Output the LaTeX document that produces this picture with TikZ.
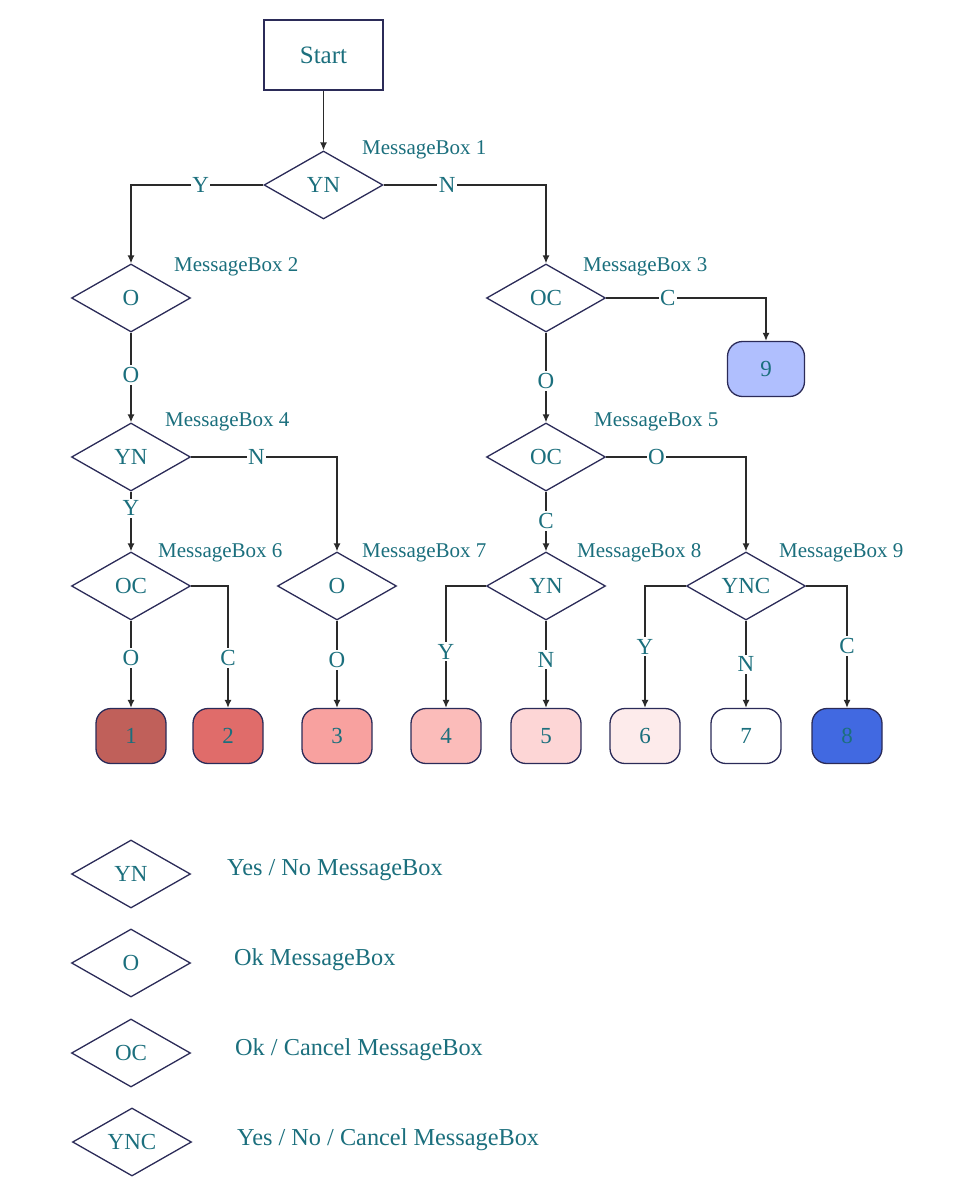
\documentclass[tikz,border=0pt]{standalone}
\usepackage{fontspec}
\setmainfont{Liberation Serif}
\usetikzlibrary{shapes.geometric,arrows.meta}
\definecolor{txt}{HTML}{1B6F7D}
\definecolor{edge}{HTML}{2B2B58}
\definecolor{wire}{HTML}{2A2A2A}
\definecolor{c1}{HTML}{C0605A}
\definecolor{c2}{HTML}{E06C6A}
\definecolor{c3}{HTML}{F8A19F}
\definecolor{c4}{HTML}{FBBCBA}
\definecolor{c5}{HTML}{FDD6D6}
\definecolor{c6}{HTML}{FDEBEB}
\definecolor{c7}{HTML}{FFFFFF}
\definecolor{c8}{HTML}{4169E1}
\definecolor{c9}{HTML}{B0BFFE}
\tikzset{
  dia/.style={draw=edge, line width=1.3pt, shape=diamond, aspect=1.75, inner sep=0pt,
    minimum width=119pt, minimum height=68pt, text=txt, font=\fontsize{23}{26}\selectfont},
  term/.style={draw=edge, line width=1.3pt, rounded corners=15pt, minimum width=70pt,
    minimum height=55pt, text=txt, font=\fontsize{23}{26}\selectfont},
  startbox/.style={draw=edge, line width=1.3pt, minimum width=119pt, minimum height=70pt,
    text=txt, font=\fontsize{25}{28}\selectfont},
  mblab/.style={text=txt, anchor=west, inner sep=0pt, font=\fontsize{21}{24}\selectfont},
  leglab/.style={text=txt, anchor=west, inner sep=0pt, font=\fontsize{24.3}{28}\selectfont},
  conn/.style={draw=wire, line width=1.3pt, -{Latex[length=8pt,width=7pt]}},
  lab/.style={fill=white, text=txt, inner xsep=1.5pt, inner ysep=2pt, font=\fontsize{23}{26}\selectfont},
}
\begin{document}
\begin{tikzpicture}[x=1pt,y=-1pt]
\useasboundingbox (0,0) rectangle (953,1202);
% nodes
\node[startbox] (start) at (323.5,55) {Start};
\node[dia] (mb1) at (323.5,185) {YN};
\node[dia] (mb2) at (131,298) {O};
\node[dia] (mb3) at (546,298) {OC};
\node[dia] (mb4) at (131,457) {YN};
\node[dia] (mb5) at (546,457) {OC};
\node[dia] (mb6) at (131,586) {OC};
\node[dia] (mb7) at (337,586) {O};
\node[dia] (mb8) at (546,586) {YN};
\node[dia] (mb9) at (746,586) {YNC};
\node[term, fill=c9, minimum width=77pt] (t9) at (766,369) {9};
\node[term, fill=c1] (t1) at (131,736) {1};
\node[term, fill=c2] (t2) at (228,736) {2};
\node[term, fill=c3] (t3) at (337,736) {3};
\node[term, fill=c4] (t4) at (446,736) {4};
\node[term, fill=c5] (t5) at (546,736) {5};
\node[term, fill=c6] (t6) at (645,736) {6};
\node[term, fill=c7] (t7) at (746,736) {7};
\node[term, fill=c8] (t8) at (847,736) {8};
% message box labels
\node[mblab] (l1) at (362,150) {MessageBox 1};
\node[mblab] (l2) at (174,267) {MessageBox 2};
\node[mblab] (l3) at (583,267) {MessageBox 3};
\node[mblab] (l4) at (165,422) {MessageBox 4};
\node[mblab] (l5) at (594,422) {MessageBox 5};
\node[mblab] (l6) at (158,553) {MessageBox 6};
\node[mblab] (l7) at (362,553) {MessageBox 7};
\node[mblab] (l8) at (577,553) {MessageBox 8};
\node[mblab] (l9) at (779,553) {MessageBox 9};
% connectors
\draw[conn] (start.south) -- (mb1.north);
\draw[conn] (mb1.west) -| node[lab,pos=0.237]{Y} (mb2.north);
\draw[conn] (mb1.east) -| node[lab,pos=0.196]{N} (mb3.north);
\draw[conn] (mb2.south) -- node[lab,pos=0.47]{O} (mb4.north);
\draw[conn] (mb4.east) -| node[lab,pos=0.224]{N} (mb7.north);
\draw[conn] (mb4.south) -- node[lab,pos=0.28]{Y} (mb6.north);
\draw[conn] (mb3.east) -| node[lab,pos=0.193]{C} (t9.north);
\draw[conn] (mb3.south) -- node[lab,pos=0.54]{O} (mb5.north);
\draw[conn] (mb5.east) -| node[lab,pos=0.18]{O} (mb9.north);
\draw[conn] (mb5.south) -- node[lab,pos=0.49]{C} (mb8.north);
\draw[conn] (mb6.south) -- node[lab,pos=0.43]{O} (t1.north);
\draw[conn] (mb6.east) -| node[lab,pos=0.795]{C} (t2.north);
\draw[conn] (mb7.south) -- node[lab,pos=0.45]{O} (t3.north);
\draw[conn] (mb8.west) -| node[lab,pos=0.77]{Y} (t4.north);
\draw[conn] (mb8.south) -- node[lab,pos=0.45]{N} (t5.north);
\draw[conn] (mb9.west) -| node[lab,pos=0.75]{Y} (t6.north);
\draw[conn] (mb9.south) -- node[lab,pos=0.5]{N} (t7.north);
\draw[conn] (mb9.east) -| node[lab,pos=0.746]{C} (t8.north);
% legend
\node[dia] (g1) at (131,874) {YN};
\node[dia] (g2) at (131,963) {O};
\node[dia] (g3) at (131,1053) {OC};
\node[dia] (g4) at (132,1142) {YNC};
\node[leglab] (gl1) at (227,870) {Yes / No MessageBox};
\node[leglab] (gl2) at (234,960) {Ok MessageBox};
\node[leglab] (gl3) at (235,1050) {Ok / Cancel MessageBox};
\node[leglab] (gl4) at (237,1140) {Yes / No / Cancel MessageBox};
\end{tikzpicture}
\end{document}
